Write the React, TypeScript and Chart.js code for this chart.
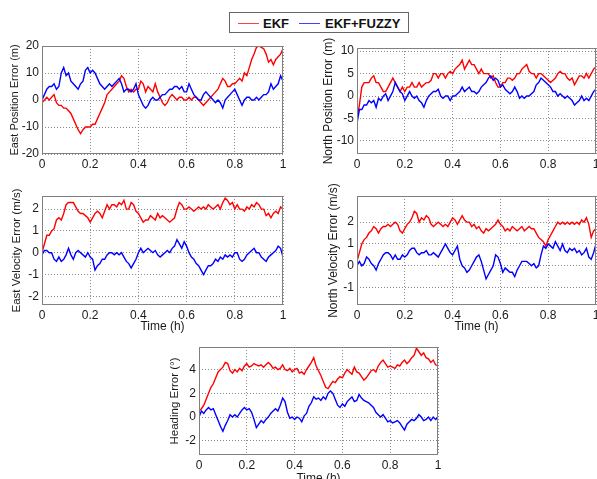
import React, { useEffect, useRef } from "react";
import { Chart, registerables } from "chart.js";

Chart.register(...registerables);

// ---------- data ----------
const TIME = [
  0, 0.01, 0.02, 0.03, 0.04, 0.05, 0.06, 0.07, 0.08, 0.09,
  0.1, 0.11, 0.12, 0.13, 0.14, 0.15, 0.16, 0.17, 0.18, 0.19,
  0.2, 0.21, 0.22, 0.23, 0.24, 0.25, 0.26, 0.27, 0.28, 0.29,
  0.3, 0.31, 0.32, 0.33, 0.34, 0.35, 0.36, 0.37, 0.38, 0.39,
  0.4, 0.41, 0.42, 0.43, 0.44, 0.45, 0.46, 0.47, 0.48, 0.49,
  0.5, 0.51, 0.52, 0.53, 0.54, 0.55, 0.56, 0.57, 0.58, 0.59,
  0.6, 0.61, 0.62, 0.63, 0.64, 0.65, 0.66, 0.67, 0.68, 0.69,
  0.7, 0.71, 0.72, 0.73, 0.74, 0.75, 0.76, 0.77, 0.78, 0.79,
  0.8, 0.81, 0.82, 0.83, 0.84, 0.85, 0.86, 0.87, 0.88, 0.89,
  0.9, 0.91, 0.92, 0.93, 0.94, 0.95, 0.96, 0.97, 0.98, 0.99,
  1,
];

const X_TICKS = [0, 0.2, 0.4, 0.6, 0.8, 1];

const EAST_POS_EKF = [
  -1, 0, 1, 0, 1, 2, -1, -2, -2, -3,
  -3, -4, -5, -7, -9, -11, -12.5, -11, -10, -10,
  -10, -9, -9, -7, -5, -3, -1, 2, 3, 4,
  5, 6, 7, 9, 8, 5, 3, 4, 3, 4,
  4, 7, 6, 3, 5, 4, 3, 6, 3, 1,
  -1, -2, -1, 1, 2, 1, 0, 1, 1, 0,
  0, 1, 0, 1, 1, 0, -1, -2, -1, 0,
  1, 2, 3, 4, 6, 8, 7, 5, 5, 6,
  6, 7, 8, 7, 10, 9, 12, 15, 17, 19.5,
  20, 19.5, 19, 17, 14, 15, 13, 15, 16, 17,
  19,
];
const EAST_POS_FUZZY = [
  0, 2, 4, 5, 5, 6, 4, 5, 10, 12,
  9, 10, 7, 6, 5, 4, 6, 7, 11, 12,
  10, 11, 10, 8, 6, 5, 4, 5, 6, 5,
  6, 7, 8, 6, 3, 4, 4, 3, 4, 6,
  2, 0, -2, -3, -2, 0, 1, 0, 0, 1,
  2, 2, 3, 4, 4, 5, 5, 4, 5, 3,
  3, 6, 4, 2, 1, 0, 0, 2, 3, 2,
  1, 0, -1, 0, -1, -3, 0, 1, 2, 3,
  4, 2, 0, -2, 0, 1, 1, 0, 0, 1,
  0, 1, 2, 2, 3, 6, 4, 5, 6, 9,
  7,
];

const NORTH_POS_EKF = [
  -5, -2, 2, 3, 3, 3, 4, 4.5, 3, 3,
  2, 1, 1, 2, 3, 4, 3, 2, 1, 2,
  1, 2, 2, 3, 2, 2, 3, 2, 2.5, 3,
  3, 3.5, 5, 5, 4, 5, 5, 4, 5, 5.5,
  5, 6, 6.5, 7, 8, 6, 7, 8, 7, 7,
  6, 5, 6, 5, 5, 5, 4, 4.5, 3, 2,
  2, 3, 3, 4, 4, 3.5, 4, 5, 5, 6,
  6.5, 7, 5.5, 5, 5, 4, 5, 5, 4.5, 4,
  3.5, 3, 3.5, 4, 5, 5.5, 5, 5, 4, 3.5,
  4, 2.5, 3.5, 4.5, 4.5, 4, 5, 4, 5, 6,
  6.5,
];
const NORTH_POS_FUZZY = [
  -6, -3, -3, -2, -2, -1, -1.5, -1, -2.5, -0.5,
  -1, 0, 0.5, -1, 0, 1, 3, 2, 1, 0.5,
  -1, 0, 1, 0, -0.5, 0, -1, -1.5, -2.5, -1,
  0, 0.5, 1, 1, 1.5, 0, -0.5, 0, 0, -1,
  0, 0, 0.5, 1, 2, 1, 1.5, 2, 1, 1,
  0.5, 1, 2, 2.5, 3, 4, 4.5, 3.5, 4, 3.5,
  2, 2.5, 1.5, 1, 0.5, 1, 2, 1, -0.5, 0,
  -0.5, 0, 0, 0.5, 1, 2.5, 3, 4, 3.5, 3,
  2.5, 2, 1, 1, 0, 0.5, 0, -0.5, 0, -0.5,
  -1, -2, -1.5, -1, 0, -1, -0.5, -1, 0, 1,
  1.5,
];

const EAST_VEL_EKF = [
  0, 0.4, 0.8, 0.8, 1.0, 1.1, 1.5, 1.6, 1.5, 1.8,
  2.2, 2.3, 2.3, 2.3, 2.1, 1.9, 1.8, 1.8, 1.7, 1.6,
  1.4, 1.6, 1.8, 1.9, 1.8, 1.6, 1.9, 2.2, 2.0, 2.2,
  2.2, 2.1, 2.3, 2.2, 2.4, 2.0, 2.0, 2.3, 2.2, 1.9,
  1.8, 1.6, 1.4, 1.5, 1.5, 1.7, 1.6, 1.5, 1.8, 1.6,
  1.7, 1.6, 1.5, 1.4, 1.5, 1.6, 2.0, 2.3, 2.2, 2.0,
  2.0, 2.1, 2.0, 1.9, 2.0, 2.1, 2.0, 2.1, 2.0, 2.2,
  2.1, 2.0, 2.1, 2.2, 2.0, 2.3, 2.5, 2.4, 2.2, 2.3,
  2.0, 2.2, 2.0, 2.0, 1.9, 2.1, 2.0, 2.2, 2.1, 2.3,
  2.2, 2.0, 2.0, 1.7, 1.8, 1.6, 1.8, 1.9, 1.8, 2.1,
  2.0,
];
const EAST_VEL_FUZZY = [
  -0.1, 0.1, 0.1, 0.0, 0.0, -0.3, -0.4, -0.2, -0.4, -0.3,
  -0.1, 0.2, -0.1, -0.3, 0.0, 0.1, 0.0, -0.1, -0.2, 0.0,
  -0.2, -0.3, -0.8, -0.6, -0.5, -0.3, -0.3, -0.1, 0.0, 0.0,
  -0.1, 0.0, -0.1, 0.0, -0.2, -0.4, -0.5, -0.7, -0.5, -0.3,
  0.0, 0.2, 0.0, 0.1, 0.2, 0.1, 0.0, 0.1, -0.1, -0.2,
  -0.1, 0.0, 0.1, 0.0, 0.2, 0.3, 0.6, 0.4, 0.2, 0.5,
  0.3, 0.0, -0.2, -0.3, -0.5, -0.6, -0.8, -1.0, -0.8, -0.6,
  -0.6, -0.5, -0.3, -0.4, -0.2, -0.3, -0.1, -0.2, -0.1, -0.2,
  0.0, 0.0, -0.3, -0.4, -0.3, -0.1, 0.0, 0.1, 0.2, 0.0,
  0.0, -0.2, -0.3, -0.4, -0.2, -0.1, 0.0, 0.1, 0.3, 0.2,
  -0.2,
];

const NORTH_VEL_EKF = [
  0.2, 0.6, 1.0, 1.2, 1.3, 1.5, 1.6, 1.8, 1.7, 1.5,
  1.7, 1.8, 1.8, 1.9, 1.8, 1.9, 2.0, 1.9, 1.6, 1.5,
  1.7, 1.9, 2.0, 2.2, 2.5, 2.4, 2.0, 2.2, 2.1, 2.3,
  2.2, 1.9, 1.8, 1.9, 2.0, 1.9, 1.8, 1.9, 1.8, 2.0,
  2.2, 2.1, 1.9, 2.1, 2.3, 2.1, 2.0, 2.0, 1.8, 1.9,
  1.7, 1.8, 1.6, 1.5, 1.7, 1.6, 1.7, 1.8, 1.9, 2.1,
  1.9, 1.8, 1.6, 1.7, 1.6, 1.8, 1.7, 1.6, 1.7, 1.8,
  1.6, 1.7, 1.8, 1.7, 1.7, 1.5, 1.3, 1.2, 1.1, 0.9,
  1.2, 1.4, 1.6, 1.8, 2.0, 1.9, 2.0, 1.9, 2.0, 1.9,
  2.0, 1.9, 2.0, 1.9, 2.1, 2.0, 2.2, 1.9, 1.3, 1.6,
  1.7,
];
const NORTH_VEL_FUZZY = [
  0.0, 0.2, 0.0, 0.1, 0.4, 0.3, 0.1, 0.0, -0.2, 0.1,
  0.3, 0.5, 0.6, 0.6, 0.5, 0.3, 0.5, 0.3, 0.3, 0.5,
  0.4, 0.5, 0.7, 0.8, 0.8, 0.6, 0.5, 0.6, 0.6, 0.7,
  0.5, 0.5, 0.6, 0.5, 0.4, 0.6, 0.8, 1.0, 0.8, 0.6,
  0.5, 0.7, 0.9, 0.3, 0.0, -0.1, -0.3, -0.2, 0.0, 0.2,
  0.4, 0.5, 0.2, -0.2, -0.6, -0.4, -0.2, 0.0, 0.5, 0.4,
  0.1, -0.3, -0.1, -0.2, -0.3, -0.3, -0.5, -0.2, 0.0, 0.2,
  0.2, 0.2, 0.1, 0.0, 0.1, -0.1, 0.0, 0.5, 0.9, 0.8,
  1.0, 0.9, 0.8, 1.1, 0.9, 0.7, 1.0, 0.7, 0.6, 0.8,
  0.7, 0.8, 0.6, 0.7, 0.5, 0.6, 0.8, 0.4, 0.3, 0.6,
  1.0,
];

const HEADING_EKF = [
  0.5, 0.7, 1.0, 1.5, 2.0, 2.5, 2.8, 3.3, 3.8, 4.0,
  4.2, 4.6, 4.5, 3.9, 3.7, 4.0, 3.8, 4.1, 3.9, 4.3,
  4.5, 4.2, 4.3, 4.5, 4.4, 4.3, 4.4, 4.2, 4.4, 4.6,
  4.4, 4.1, 4.2, 4.0, 4.1, 4.4, 4.0, 3.9, 4.1, 3.8,
  4.0, 4.1, 3.7, 3.8, 3.6, 4.0, 4.3, 4.6, 5.0, 4.3,
  3.9, 3.5, 3.0, 2.5, 2.4, 2.7, 3.0, 2.9, 3.2, 3.4,
  3.3, 3.7, 4.0, 3.8, 3.6, 4.2, 3.8, 3.7, 3.4, 3.1,
  3.3, 3.6, 3.9, 4.0, 3.8, 4.3, 4.6, 4.8, 4.5, 4.2,
  4.3, 4.2, 4.1, 4.4, 4.3, 4.6, 4.8, 4.5, 4.7, 5.0,
  5.2, 5.8, 5.5, 5.2, 5.4, 5.0, 4.9, 4.6, 4.8, 4.4,
  4.3,
];
const HEADING_FUZZY = [
  0.0, 0.5, 0.3, 0.6, 0.8, 0.6, 0.7, 0.2, -0.3, -0.8,
  -1.2, -0.7, -0.3, 0.2, 0.0, 0.2, 0.0, 0.3, 0.6, 0.8,
  0.6, 0.7, 0.4, -0.2, -0.9, -0.6, -0.3, -0.5, -0.2, 0.0,
  0.3, 0.5, 0.7, 0.5, 1.0, 1.6, 1.3, 0.4, -0.1, 0.0,
  -0.2, 0.0, -0.1, -0.4, 0.1, 0.3, 0.9, 1.2, 1.7, 1.5,
  1.6, 1.4, 1.7, 1.5, 2.0, 2.2, 2.0, 1.5, 1.0, 0.8,
  1.1, 0.9, 1.3, 1.5, 1.7, 1.3, 1.4, 1.9, 1.6, 1.4,
  1.3, 1.2, 1.0, 0.8, 0.4, 0.2, 0.0, 0.2, -0.1, -0.4,
  -0.3, -0.5, -0.4, -0.3, -0.5, -0.8, -1.1, -0.6, -0.4, -0.2,
  -0.3, -0.1, 0.2, 0.0, -0.3, -0.2, 0.0, -0.3, 0.0, -0.2,
  0.0,
];

const EAST_POS_TICKS = [-20, -10, 0, 10, 20];
const NORTH_POS_TICKS = [-10, -5, 0, 5, 10];
const EAST_VEL_TICKS = [-2, -1, 0, 1, 2];
const NORTH_VEL_TICKS = [-1, 0, 1, 2];
const HEADING_TICKS = [-2, 0, 2, 4];

const SERIES_NAMES = ["EKF", "EKF+FUZZY"];
const RED = "#ff0000";
const BLUE = "#0000ff";
const FONT = 'Arial, "Liberation Sans", sans-serif';
const TEXT = "#1a1a1a";

type Rect = { left: number; top: number; right: number; bottom: number };

const framePlugin = {
  id: "frame",
  afterDraw(chart: any) {
    const { ctx, chartArea } = chart;
    const l = Math.round(chartArea.left) + 0.5;
    const t = Math.round(chartArea.top) + 0.5;
    const r = Math.round(chartArea.right) - 0.5;
    const b = Math.round(chartArea.bottom) - 0.5;
    ctx.save();
    ctx.strokeStyle = "#808080";
    ctx.lineWidth = 1;
    ctx.strokeRect(l, t, r - l, b - t);
    ctx.restore();
  },
};

function Panel(props: {
  canvas: Rect;
  plot: Rect;
  ekf: number[];
  fuzzy: number[];
  yMin: number;
  yMax: number;
  yTicks: number[];
  yTitle: string;
  yTitleSize: number;
  xTitle?: string;
}) {
  const ref = useRef<HTMLCanvasElement>(null);
  const { canvas, plot } = props;
  const W = canvas.right - canvas.left;
  const H = canvas.bottom - canvas.top;

  useEffect(() => {
    if (!ref.current) return;
    const yw = plot.left - canvas.left;
    const padTop = plot.top - canvas.top;
    const padRight = canvas.right - plot.right;
    const xh = canvas.bottom - plot.bottom;
    const tickFont = { family: FONT, size: 12 };
    const chart = new Chart(ref.current, {
      type: "line",
      data: {
        datasets: [
          {
            label: SERIES_NAMES[1],
            data: TIME.map((t, i) => ({ x: t, y: props.fuzzy[i] })),
            borderColor: BLUE,
            borderWidth: 1.4,
            pointRadius: 0,
            tension: 0,
            fill: false,
          },
          {
            label: SERIES_NAMES[0],
            data: TIME.map((t, i) => ({ x: t, y: props.ekf[i] })),
            borderColor: RED,
            borderWidth: 1.4,
            pointRadius: 0,
            tension: 0,
            fill: false,
          },
        ],
      },
      options: {
        animation: false,
        responsive: false,
        devicePixelRatio: 1,
        layout: { padding: { left: 0, top: padTop, right: padRight, bottom: 0 } },
        plugins: {
          legend: { display: false },
          tooltip: { enabled: false },
          title: { display: false },
        },
        scales: {
          x: {
            type: "linear",
            min: 0,
            max: 1,
            afterBuildTicks: (s: any) => {
              s.ticks = X_TICKS.map((v) => ({ value: v }));
            },
            afterFit: (s: any) => {
              s.height = xh;
              s.paddingLeft = 0;
              s.paddingRight = 0;
            },
            ticks: {
              font: tickFont,
              color: TEXT,
              padding: 3,
              maxRotation: 0,
              autoSkip: false,
              callback: (v: any) => String(v),
            },
            grid: { color: "#8a8a8a", lineWidth: 1, drawTicks: false },
            border: { display: false, dash: [1, 2] },
            title: {
              display: !!props.xTitle,
              text: props.xTitle || "",
              font: { family: FONT, size: 12 },
              color: TEXT,
              padding: 0,
            },
          },
          y: {
            type: "linear",
            min: props.yMin,
            max: props.yMax,
            afterBuildTicks: (s: any) => {
              s.ticks = props.yTicks.map((v) => ({ value: v }));
            },
            afterFit: (s: any) => {
              s.width = yw;
              s.paddingTop = 0;
              s.paddingBottom = 0;
            },
            ticks: {
              font: tickFont,
              color: TEXT,
              padding: 3,
              autoSkip: false,
              callback: (v: any) => String(v),
            },
            grid: { color: "#8a8a8a", lineWidth: 1, drawTicks: false },
            border: { display: false, dash: [1, 2] },
            title: {
              display: true,
              text: props.yTitle,
              font: { family: FONT, size: props.yTitleSize, lineHeight: 14.4 / props.yTitleSize },
              color: TEXT,
              padding: 0,
            },
          },
        },
      } as any,
      plugins: [framePlugin],
    });
    return () => chart.destroy();
  }, []);

  return (
    <canvas
      ref={ref}
      width={W}
      height={H}
      style={{
        position: "absolute",
        left: canvas.left,
        top: canvas.top,
        width: W,
        height: H,
        display: "block",
      }}
    />
  );
}

function Legend() {
  const item = (color: string, label: string, lineLeft: number, textLeft: number) => (
    <>
      <div
        style={{
          position: "absolute",
          left: lineLeft,
          top: 10,
          width: 21,
          height: 0,
          borderTop: `1px solid ${color}`,
          opacity: 0.75,
        }}
      />
      <div
        style={{
          position: "absolute",
          left: textLeft,
          top: 2,
          fontFamily: FONT,
          fontWeight: "bold",
          fontSize: 13,
          lineHeight: "17px",
          color: "#111",
          whiteSpace: "nowrap",
        }}
      >
        {label}
      </div>
    </>
  );
  return (
    <div
      style={{
        position: "absolute",
        left: 229,
        top: 12,
        width: 180,
        height: 21,
        border: "1px solid #666",
        background: "#fff",
        boxSizing: "border-box",
      }}
    >
      {item(RED, SERIES_NAMES[0], 8, 33)}
      {item(BLUE, SERIES_NAMES[1], 69, 95)}
    </div>
  );
}

export default function App() {
  return (
    <div
      style={{
        position: "fixed",
        left: 0,
        top: 0,
        width: 597,
        height: 479,
        overflow: "hidden",
        background: "#fff",
      }}
    >
      <Panel
        canvas={{ left: 8, top: 30, right: 293, bottom: 172 }}
        plot={{ left: 42, top: 46, right: 283, bottom: 154 }}
        ekf={EAST_POS_EKF}
        fuzzy={EAST_POS_FUZZY}
        yMin={-20}
        yMax={20}
        yTicks={EAST_POS_TICKS}
        yTitle="East Position Error (m)"
        yTitleSize={11}
      />
      <Panel
        canvas={{ left: 321, top: 28, right: 597, bottom: 172 }}
        plot={{ left: 357, top: 48, right: 596, bottom: 154 }}
        ekf={NORTH_POS_EKF}
        fuzzy={NORTH_POS_FUZZY}
        yMin={-12.9}
        yMax={10.7}
        yTicks={NORTH_POS_TICKS}
        yTitle="North Position Error (m)"
        yTitleSize={12}
      />
      <Panel
        canvas={{ left: 10, top: 176, right: 293, bottom: 334 }}
        plot={{ left: 42, top: 196, right: 283, bottom: 305 }}
        ekf={EAST_VEL_EKF}
        fuzzy={EAST_VEL_FUZZY}
        yMin={-2.4}
        yMax={2.6}
        yTicks={EAST_VEL_TICKS}
        yTitle="East Velocity Error (m/s)"
        yTitleSize={11.5}
        xTitle="Time (h)"
      />
      <Panel
        canvas={{ left: 326, top: 176, right: 597, bottom: 334 }}
        plot={{ left: 357, top: 196, right: 596, bottom: 305 }}
        ekf={NORTH_VEL_EKF}
        fuzzy={NORTH_VEL_FUZZY}
        yMin={-1.8}
        yMax={3.2}
        yTicks={NORTH_VEL_TICKS}
        yTitle="North Velocity Error (m/s)"
        yTitleSize={12}
        xTitle="Time (h)"
      />
      <Panel
        canvas={{ left: 168, top: 337, right: 448, bottom: 486 }}
        plot={{ left: 199, top: 347, right: 438, bottom: 455 }}
        ekf={HEADING_EKF}
        fuzzy={HEADING_FUZZY}
        yMin={-3.2}
        yMax={5.9}
        yTicks={HEADING_TICKS}
        yTitle="Heading Error (°)"
        yTitleSize={11.5}
        xTitle="Time (h)"
      />
      <Legend />
    </div>
  );
}
